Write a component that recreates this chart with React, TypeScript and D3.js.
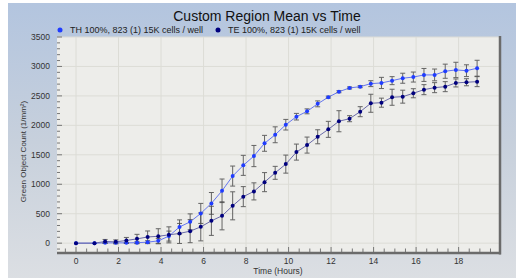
import React from "react";
import * as d3 from "d3";

const times = [0, 0.87, 1.37, 1.87, 2.37, 2.87, 3.37, 3.87, 4.37, 4.87, 5.37, 5.87, 6.37, 6.87, 7.37, 7.87, 8.37, 8.87, 9.37, 9.87, 10.37, 10.87, 11.37, 11.87, 12.37, 12.87, 13.37, 13.87, 14.37, 14.87, 15.37, 15.87, 16.37, 16.87, 17.37, 17.87, 18.37, 18.87];

const thMean = [0, 0, 5, 5, 5, 8, 17, 39, 120, 275, 362, 505, 675, 889, 1139, 1321, 1479, 1695, 1840, 2011, 2147, 2238, 2365, 2479, 2571, 2635, 2657, 2708, 2720, 2759, 2800, 2820, 2856, 2856, 2919, 2941, 2928, 2970];
const thErr = [0, 0, 8, 8, 8, 17, 25, 42, 85, 120, 135, 170, 185, 200, 170, 170, 180, 135, 135, 90, 56, 42, 50, 17, 17, 17, 17, 50, 95, 68, 85, 85, 110, 100, 120, 130, 100, 135];

const teMean = [0, 0, 29, 22, 46, 73, 105, 117, 141, 165, 204, 277, 379, 464, 634, 790, 879, 1036, 1194, 1342, 1546, 1665, 1806, 1932, 2070, 2113, 2232, 2375, 2385, 2477, 2487, 2545, 2606, 2640, 2657, 2720, 2732, 2742];
const teErr = [0, 0, 34, 34, 51, 77, 102, 128, 136, 170, 196, 238, 247, 238, 238, 170, 145, 162, 110, 153, 136, 136, 119, 136, 179, 51, 85, 153, 77, 136, 110, 77, 85, 85, 85, 68, 60, 85];

const seriesNames = ["TH 100%, 823 (1) 15K cells / well", "TE 100%, 823 (1) 15K cells / well"];
const xTicks = [0, 2, 4, 6, 8, 10, 12, 14, 16, 18];
const yTicks = [0, 500, 1000, 1500, 2000, 2500, 3000, 3500];
const title = "Custom Region Mean vs Time";
const xTitle = "Time (Hours)";
const yTitle = "Green Object Count (1/mm²)";

const W = 516, H = 278;
const PL = 57, PR = 499, PT = 37, PB = 252;
const FONT = "'Liberation Sans', Arial, sans-serif";

export default function App() {
  const x = d3.scaleLinear().domain([-0.894, 19.9]).range([PL, PR]);
  const y = d3.scaleLinear().domain([-150, 3500]).range([PB, PT]);
  const series = [
    { name: seriesNames[0], mean: thMean, err: thErr, pt: "#1f3cff", line: "#6677ee" },
    { name: seriesNames[1], mean: teMean, err: teErr, pt: "#00007e", line: "#6a6aa8" },
  ];
  const line = d3.line<number>().x((_, i) => x(times[i])).y((d) => y(d));
  const minorX = d3.range(-0.5, 19.6, 0.5);
  const minorY = d3.range(-100, 3501, 100);
  return (
    <div style={{ position: "fixed", left: 0, top: 0 }}>
      <svg width={W} height={H} style={{ display: "block" }}>
        <defs>
          <linearGradient id="bg" x1="0" y1="0" x2="0" y2="1">
            <stop offset="0" stopColor="#b3c5df" />
            <stop offset="0.5" stopColor="#c7d0dc" />
            <stop offset="1" stopColor="#dcdfe3" />
          </linearGradient>
          <clipPath id="clip">
            <rect x={PL} y={PT} width={PR - PL} height={PB - PT} />
          </clipPath>
        </defs>
        <rect x={0} y={0} width={W} height={H} fill="#ffffff" />
        <rect x={8} y={3} width={W - 8} height={H} fill="url(#bg)" />
        <rect x={PL} y={PT} width={PR - PL} height={PB - PT} fill="#ededea" />
        {/* grid */}
        {xTicks.map((t) => (
          <line key={"gx" + t} x1={x(t)} x2={x(t)} y1={PT} y2={PB} stroke="#dcdcd6" strokeWidth={1} />
        ))}
        {yTicks.map((v) => (
          <line key={"gy" + v} x1={PL} x2={PR} y1={y(v)} y2={y(v)} stroke="#dcdcd6" strokeWidth={1} />
        ))}
        {/* minor ticks */}
        {minorY.map((v) => (
          <line key={"ty" + v} x1={PL} x2={PL + (v % 500 === 0 ? 5 : 3)} y1={y(v)} y2={y(v)} stroke="#777" strokeWidth={1} />
        ))}
        {minorX.map((t) => (
          <line key={"tx" + t} x1={x(t)} x2={x(t)} y1={PB} y2={PB - (Math.abs(t % 2) < 1e-6 ? 5 : 3.5)} stroke="#777" strokeWidth={1} />
        ))}
        {/* border */}
        <line x1={PR + 1} x2={PR + 1} y1={PT - 1} y2={PB + 2.5} stroke="#6b6b6b" strokeWidth={2.5} />
        <line x1={PL} x2={PR + 2} y1={PB + 1} y2={PB + 1} stroke="#6b6b6b" strokeWidth={2.5} />
        {/* data */}
        <g clipPath="url(#clip)">
          {series.map((s, si) => (
            <path key={"l" + si} d={line(s.mean) || ""} fill="none" stroke={s.line} strokeWidth={1} />
          ))}
          {series.map((s, si) => (
            <g key={"e" + si}>
              {s.mean.map((m, i) =>
                s.err[i] > 0 ? (
                  <g key={i} stroke="#4d4d4d" strokeWidth={1} opacity={0.85}>
                    <line x1={x(times[i])} x2={x(times[i])} y1={y(m - s.err[i])} y2={y(m + s.err[i])} />
                    <line x1={x(times[i]) - 2.5} x2={x(times[i]) + 2.5} y1={y(m - s.err[i])} y2={y(m - s.err[i])} />
                    <line x1={x(times[i]) - 2.5} x2={x(times[i]) + 2.5} y1={y(m + s.err[i])} y2={y(m + s.err[i])} />
                  </g>
                ) : null
              )}
            </g>
          ))}
          {series.map((s, si) => (
            <g key={"p" + si}>
              {s.mean.map((m, i) => (
                <circle key={i} cx={x(times[i])} cy={y(m)} r={2} fill={s.pt} />
              ))}
            </g>
          ))}
        </g>
        {/* tick labels */}
        {yTicks.map((v) => (
          <text key={"yl" + v} x={50} y={y(v)} dy="0.35em" textAnchor="end" fontFamily={FONT} fontSize={8.5} fill="#333">
            {v}
          </text>
        ))}
        {xTicks.map((t) => (
          <text key={"xl" + t} x={x(t)} y={264} textAnchor="middle" fontFamily={FONT} fontSize={8.5} fill="#333">
            {t}
          </text>
        ))}
        <text x={(PL + PR) / 2} y={274} textAnchor="middle" fontFamily={FONT} fontSize={8.5} fill="#333">
          {xTitle}
        </text>
        <text transform={`translate(26,${(PT + PB) / 2 + 7}) rotate(-90)`} textAnchor="middle" fontFamily={FONT} fontSize={8} fill="#333">
          {yTitle}
        </text>
        <text x={267} y={21} textAnchor="middle" fontFamily={FONT} fontSize={14} fill="#111">
          {title}
        </text>
        {/* legend */}
        {series.map((s, si) => {
          const lx = si === 0 ? 60 : 218;
          return (
            <g key={"lg" + si}>
              <circle cx={lx} cy={30} r={2.5} fill={s.pt} />
              <text x={lx + 10} y={33} fontFamily={FONT} fontSize={9} fill="#222">
                {s.name}
              </text>
            </g>
          );
        })}
      </svg>
    </div>
  );
}
